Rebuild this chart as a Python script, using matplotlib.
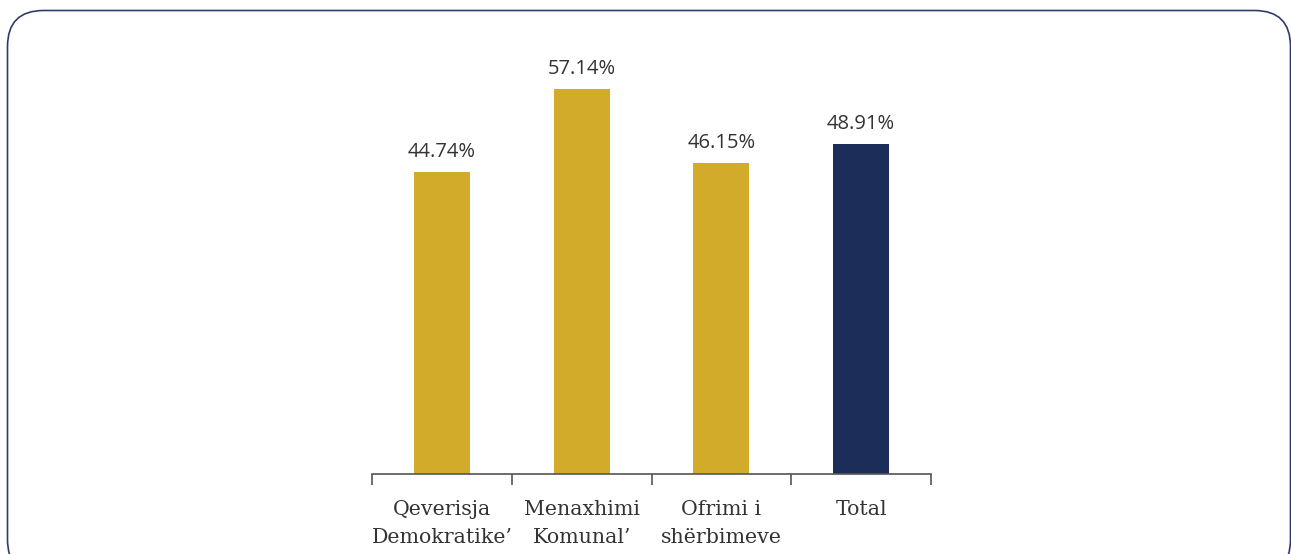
import matplotlib.pyplot as plt
from matplotlib.patches import FancyBboxPatch

# Data
categories = ["Qeverisja\nDemokratike’", "Menaxhimi\nKomunal’", "Ofrimi i\nshërbimeve", "Total"]
values = [44.74, 57.14, 46.15, 48.91]
bar_colors = ["#D3AB2A", "#D3AB2A", "#D3AB2A", "#1C2D59"]

W, H = 1291, 554
fig = plt.figure(figsize=(W / 100, H / 100), dpi=100)

# rounded frame, drawn in pixel coordinates
bg = fig.add_axes([0, 0, 1, 1], zorder=0)
bg.set_xlim(0, W)
bg.set_ylim(H, 0)
bg.axis("off")
frame = FancyBboxPatch((7.5, 10.5), 1283, 565,
                       boxstyle="round,pad=0,rounding_size=36",
                       fc="white", ec="#2E3B6B", lw=1.2)
bg.add_patch(frame)

# main axes: x from 372 to 931 px, baseline at 474 px
left, right = 372 / W, 931 / W
bottom = (H - 474) / H
top_px = 40
ax = fig.add_axes([left, bottom, right - left, (474 - top_px) / H], zorder=1)
ax.patch.set_alpha(0)

x = range(len(values))
bars = ax.bar(x, values, width=0.4, color=bar_colors)
ax.set_xlim(-0.5, 3.5)
ax.set_ylim(0, (474 - top_px) / 6.74)

for b, v in zip(bars, values):
    ax.text(b.get_x() + b.get_width() / 2, v + 1.5, f"{v:.2f}%",
            ha="center", va="bottom", fontsize=14.5, color="#333333",
            family="Open Sans")

for s in ["top", "right", "left"]:
    ax.spines[s].set_visible(False)
ax.spines["bottom"].set_color("#555555")
ax.spines["bottom"].set_linewidth(1.2)
ax.set_yticks([])

ax.set_xticks(list(x))
ax.set_xticklabels(categories, fontsize=14.8, family="DejaVu Serif",
                   color="#333333", linespacing=1.6)
ax.tick_params(axis="x", which="major", length=0, pad=18.5)
ax.set_xticks([-0.5, 0.5, 1.5, 2.5, 3.5], minor=True)
ax.tick_params(axis="x", which="minor", length=8, width=1.2, color="#555555")

fig.savefig("out.png", dpi=100)
